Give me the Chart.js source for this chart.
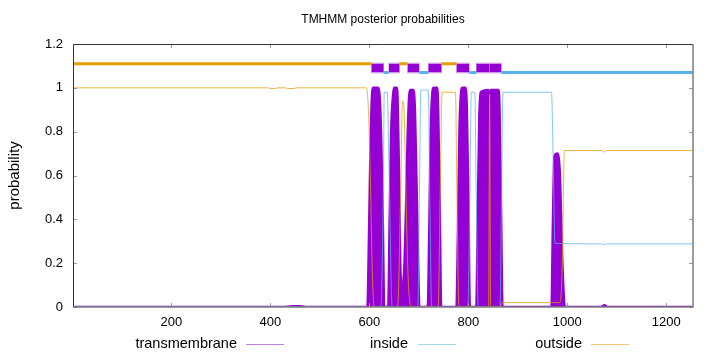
<!DOCTYPE html>
<html>
<head>
<meta charset="utf-8">
<script src="https://cdn.jsdelivr.net/npm/chart.js@4.4.0/dist/chart.umd.min.js"></script>
<style>
  html, body { margin: 0; padding: 0; background: #fff; }
  #wrap { position: relative; width: 720px; height: 352px; font-family: "Liberation Sans", Arial, sans-serif; }
  #title { position: absolute; left: 283px; width: 200px; top: 11px; text-align: center; font-size: 12px; line-height: 16px; }
  .lbl { position: absolute; top: 335px; font-size: 14.5px; line-height: 17px; text-align: right; width: 150px; white-space: nowrap; }
  .smp { position: absolute; top: 344px; width: 38px; height: 0; border-top: 1px solid; }
</style>
</head>
<body>
<div id="wrap">
  <canvas id="c" width="720" height="352"></canvas>
  <div id="title">TMHMM posterior probabilities</div>
  <div class="lbl" style="left:87px">transmembrane</div><div class="smp" style="left:246px;border-color:#bf80e4"></div>
  <div class="lbl" style="left:258px">inside</div><div class="smp" style="left:418px;border-color:#a6d6ea"></div>
  <div class="lbl" style="left:432px">outside</div><div class="smp" style="left:591px;border-color:#f2c77a"></div>
</div>
<script>
// axis
const xTicks = [200, 400, 600, 800, 1000, 1200];
const yTicks = [0, 0.2, 0.4, 0.6, 0.8, 1, 1.2];
const seqFirst = 1, seqLast = 1254;

// posterior probabilities per residue
const tmPos  = [1, 425, 445, 460, 475, 596, 599, 602, 605, 608, 617, 621, 624, 627, 630,
                638, 641, 644, 648, 650, 655, 657, 660, 662, 665, 668, 671, 674, 677, 680, 682, 689, 692, 695, 698, 701,
                718, 721, 724, 727, 730, 737, 739, 742, 745, 776, 779, 782, 785, 788, 794, 797, 800, 803,
                816, 819, 822, 825, 840, 841, 843, 845, 846, 861, 863, 866, 869,
                968, 971, 974, 980, 985, 990, 995, 1068, 1075, 1082, 1254];
const tmProb = [0, 0, 0.003, 0.003, 0, 0, 0.3, 0.7, 0.95, 1, 1, 0.95, 0.75, 0.4, 0,
                0, 0.4, 0.8, 0.97, 1, 1, 0.95, 0.6, 0.25, 0.08, 0.1, 0.2, 0.45, 0.75, 0.95, 0.99, 0.99, 0.9, 0.6, 0.25, 0,
                0, 0.35, 0.8, 0.97, 1, 1, 0.9, 0.5, 0, 0, 0.35, 0.8, 0.97, 1, 1, 0.9, 0.5, 0,
                0, 0.4, 0.85, 0.98, 0.99, 0.98, 0.03, 0.98, 0.99, 0.99, 0.9, 0.45, 0,
                0, 0.4, 0.69, 0.7, 0.6, 0.2, 0, 0, 0.008, 0, 0];

const insidePos  = [1, 623, 628, 630, 636, 640, 646, 698, 701, 704, 719, 722, 726, 799, 803, 806, 813, 816, 820, 864, 867, 870, 968, 972, 975, 1070, 1075, 1080, 1254];
const insideProb = [0, 0, 0.5, 0.98, 0.98, 0.6, 0, 0, 0.5, 0.99, 0.99, 0.5, 0, 0, 0.5, 0.98, 0.98, 0.5, 0, 0, 0.5, 0.98, 0.98, 0.6, 0.29, 0.288, 0.282, 0.288, 0.288];

const outsidePos  = [1, 395, 400, 410, 415, 430, 435, 448, 452, 594, 598, 602, 606, 610, 657, 663, 667, 670, 674, 678, 682, 686, 739, 743, 747, 774, 777, 781,
                     841, 843, 845, 864, 868, 985, 990, 994, 1070, 1075, 1080, 1254];
const outsideProb = [1, 1, 0.997, 0.997, 1, 1, 0.997, 0.997, 1, 1, 0.9, 0.58, 0.15, 0, 0, 0.5, 0.94, 0.9, 0.5, 0.15, 0.02, 0, 0, 0.5, 0.98, 0.98, 0.5, 0,
                     0, 0.97, 0, 0, 0.02, 0.02, 0.2, 0.714, 0.714, 0.707, 0.714, 0.714];

// predicted topology (top bar)
const topoStart = [1, 605, 629, 640, 661, 678, 701, 720, 746, 777, 802, 817, 843, 844, 867];
const topoEnd   = [604, 628, 639, 660, 677, 700, 719, 745, 776, 801, 816, 842, 843, 866, 1254];
const topoState = ['outside', 'TMhelix', 'inside', 'TMhelix', 'outside', 'TMhelix', 'inside', 'TMhelix',
                   'outside', 'TMhelix', 'inside', 'TMhelix', 'outside', 'TMhelix', 'inside'];
const topoLevel = { outside: 1.11, TMhelix: 1.09, inside: 1.07 };

const pts = (xs, ys) => xs.map((x, i) => ({ x: x, y: ys[i] }));

function topoPts(state, ext) {
  const out = [];
  topoState.forEach((s, i) => {
    if (s !== state) return;
    const lv = topoLevel[s];
    out.push({ x: topoStart[i] - ext, y: lv }, { x: topoEnd[i] + ext, y: lv }, { x: topoEnd[i] + ext, y: null });
  });
  return out;
}

const PURPLE = '#9400d3', SKY = '#56b4e9', ORANGE = '#e69f00';
const base = { pointRadius: 0, tension: 0, fill: false, spanGaps: false };
const smooth = { cubicInterpolationMode: 'monotone' };

// inward ticks + frame like gnuplot
const frame = {
  id: 'frame',
  afterDraw(chart) {
    const { ctx, chartArea: a, scales: { x, y } } = chart;
    ctx.save();
    ctx.strokeStyle = '#9a9a9a';
    ctx.lineWidth = 1;
    ctx.beginPath();
    xTicks.forEach(v => {
      const px = Math.round(x.getPixelForValue(v)) + 0.5;
      ctx.moveTo(px, a.bottom); ctx.lineTo(px, a.bottom - 4);
      ctx.moveTo(px, a.top); ctx.lineTo(px, a.top + 4);
    });
    yTicks.forEach(v => {
      const py = Math.round(y.getPixelForValue(v)) + 0.5;
      ctx.moveTo(a.left, py); ctx.lineTo(a.left + 4, py);
      ctx.moveTo(a.right, py); ctx.lineTo(a.right - 4, py);
    });
    ctx.stroke();
    ctx.strokeStyle = '#333';
    ctx.beginPath();
    ctx.moveTo(a.left + 0.5, a.bottom); ctx.lineTo(a.left + 0.5, a.top + 0.5); ctx.lineTo(a.right, a.top + 0.5);
    ctx.stroke();
    ctx.strokeStyle = '#7d7d7d';
    ctx.lineWidth = 1.5;
    ctx.beginPath();
    ctx.moveTo(a.right, a.top); ctx.lineTo(a.right, a.bottom); ctx.lineTo(a.left, a.bottom);
    ctx.stroke();
    ctx.restore();
  }
};

const tickFont = { family: '"Liberation Sans", Arial, sans-serif', size: 13 };

new Chart(document.getElementById('c'), {
  type: 'line',
  data: {
    datasets: [
      { ...base, data: topoPts('TMhelix', 0.3), borderColor: PURPLE, borderWidth: 8, borderCapStyle: 'butt' },
      { ...base, data: topoPts('TMhelix', 1.5), borderColor: '#cf94ec', borderWidth: 10.5, borderCapStyle: 'butt' },
      { ...base, data: topoPts('outside', 0.5), borderColor: ORANGE, borderWidth: 3, borderCapStyle: 'butt' },
      { ...base, data: topoPts('inside', 0.5), borderColor: SKY, borderWidth: 3, borderCapStyle: 'butt' },
      { ...base, ...smooth, data: pts(outsidePos, outsideProb), borderColor: 'rgba(230,159,0,0.75)', borderWidth: 1 },
      { ...base, ...smooth, data: pts(insidePos, insideProb), borderColor: 'rgba(86,180,233,0.75)', borderWidth: 1 },
      { ...base, ...smooth, data: pts(tmPos, tmProb), borderColor: PURPLE, backgroundColor: PURPLE, borderWidth: 2.5, fill: 'origin' }
    ]
  },
  options: {
    responsive: false,
    animation: false,
    devicePixelRatio: 1,
    layout: { padding: { top: 44, right: 27, bottom: 24, left: 0 } },
    plugins: { legend: { display: false }, title: { display: false }, tooltip: { enabled: false } },
    scales: {
      x: {
        type: 'linear', min: seqFirst, max: seqLast,
        afterBuildTicks: s => { s.ticks = xTicks.map(v => ({ value: v })); },
        afterFit: s => { s.height = 21; },
        grid: { display: false, drawTicks: false }, border: { display: false },
        ticks: { padding: 8, font: tickFont, color: '#000', maxRotation: 0, autoSkip: false, callback: v => String(v) }
      },
      y: {
        min: 0, max: 1.2,
        afterBuildTicks: s => { s.ticks = yTicks.map(v => ({ value: v })); },
        afterFit: s => { s.width = 73; },
        grid: { display: false, drawTicks: false }, border: { display: false },
        ticks: { padding: 10, font: tickFont, color: '#000', autoSkip: false, callback: v => String(v) },
        title: { display: true, text: 'probability', color: '#000', font: { family: tickFont.family, size: 15 }, padding: { top: 6, bottom: 0 } }
      }
    }
  },
  plugins: [frame]
});
</script>
</body>
</html>
